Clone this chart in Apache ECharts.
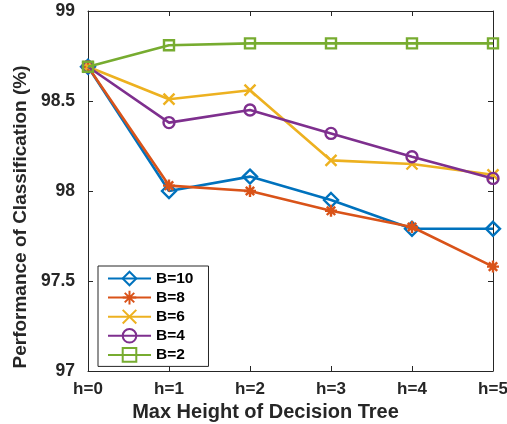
<!DOCTYPE html>
<html>
<head>
<meta charset="utf-8">
<script src="https://cdn.jsdelivr.net/npm/echarts@6/dist/echarts.min.js"></script>
<style>
  html, body { margin: 0; padding: 0; background: #fff; }
  #chart { width: 507px; height: 424px; }
</style>
</head>
<body>
<div id="chart"></div>
<script>
// Tree heights on the x axis
const heights = ['h=0', 'h=1', 'h=2', 'h=3', 'h=4', 'h=5'];

// Classification performance (%) per number of trees B
const b10 = [98.69, 98.00, 98.08, 97.95, 97.79, 97.79];
const b8  = [98.69, 98.03, 98.00, 97.89, 97.80, 97.58];
const b6  = [98.69, 98.51, 98.56, 98.17, 98.15, 98.09];
const b4  = [98.69, 98.38, 98.45, 98.32, 98.19, 98.07];
const b2  = [98.69, 98.81, 98.82, 98.82, 98.82, 98.82];

const seriesNames = ['B=10', 'B=8', 'B=6', 'B=4', 'B=2'];
const yTicks = [97, 97.5, 98, 98.5, 99];

const FONT = '"Liberation Sans", Arial, Helvetica, sans-serif';
const AXIS = '#262626';

// Hollow marker shapes: diamond, asterisk, cross, circle, square
const ASTERISK = 'path://M0,5L10,5M5,0L5,10M1.5,1.5L8.5,8.5M8.5,1.5L1.5,8.5';
const CROSS = 'path://M0,0L10,10M10,0L0,10';

const styles = [
  { color: '#0072BD', symbol: 'diamond', size: 14 },
  { color: '#D95319', symbol: ASTERISK, size: 12 },
  { color: '#EDB120', symbol: CROSS, size: 11 },
  { color: '#7E2F8E', symbol: 'circle', size: 11 },
  { color: '#77AC30', symbol: 'rect', size: 10 }
];
const values = [b10, b8, b6, b4, b2];

const series = values.map((data, i) => ({
  name: seriesNames[i],
  type: 'line',
  data: data,
  symbol: styles[i].symbol,
  symbolSize: styles[i].size,
  showAllSymbol: true,
  color: styles[i].color,
  lineStyle: { color: styles[i].color, width: 2.6 },
  itemStyle: { color: 'rgba(255,255,255,0)', borderColor: styles[i].color, borderWidth: 2.4 },
  emphasis: { disabled: true },
  animation: false,
  z: 2 + i
}));

const chart = echarts.init(document.getElementById('chart'));
chart.setOption({
  backgroundColor: '#fff',
  animation: false,
  grid: { left: 88, right: 14, top: 11, bottom: 53, containLabel: false, outerBoundsMode: 'none' },
  legend: {
    orient: 'vertical',
    left: 98,
    top: 266,
    padding: [4.5, 15, 3.5, 9],
    itemWidth: 43,
    itemHeight: 17,
    itemGap: 3.1,
    backgroundColor: '#fff',
    borderColor: AXIS,
    borderWidth: 1,
    borderRadius: 0,
    textStyle: { fontFamily: FONT, fontWeight: 'bold', fontSize: 15.5, color: '#000' },
    data: seriesNames
  },
  xAxis: [{
    type: 'category',
    data: heights,
    boundaryGap: false,
    name: 'Max Height of Decision Tree',
    nameLocation: 'middle',
    nameGap: 20,
    nameTextStyle: {
      fontFamily: FONT, fontWeight: 'bold', fontSize: 20, color: '#262626',
      padding: [0, 50, 0, 0]
    },
    axisLine: { lineStyle: { color: AXIS, width: 1 } },
    axisTick: { inside: true, length: 5, alignWithLabel: true, lineStyle: { color: AXIS } },
    axisLabel: { margin: 10, fontFamily: FONT, fontWeight: 'bold', fontSize: 17, color: '#262626' },
    splitLine: { show: false }
  }, {
    type: 'category',
    data: heights,
    boundaryGap: false,
    position: 'top',
    axisLine: { lineStyle: { color: AXIS, width: 1 } },
    axisTick: { inside: true, length: 5, lineStyle: { color: AXIS } },
    axisLabel: { show: false },
    splitLine: { show: false }
  }],
  yAxis: [{
    type: 'value',
    min: yTicks[0],
    max: yTicks[yTicks.length - 1],
    interval: 0.5,
    name: 'Performance of Classification (%)',
    nameLocation: 'middle',
    nameGap: 57,
    nameTextStyle: {
      fontFamily: FONT, fontWeight: 'bold', fontSize: 19, color: '#262626',
      padding: [0, 52, 0, 0]
    },
    axisLine: { show: true, lineStyle: { color: AXIS, width: 1 } },
    axisTick: { show: true, inside: true, length: 5, lineStyle: { color: AXIS } },
    axisLabel: {
      margin: 13, fontFamily: FONT, fontWeight: 'bold', fontSize: 17.5, color: '#262626',
      formatter: v => String(v)
    },
    splitLine: { show: false }
  }, {
    type: 'value',
    min: yTicks[0],
    max: yTicks[yTicks.length - 1],
    interval: 0.5,
    position: 'right',
    axisLine: { show: true, lineStyle: { color: AXIS, width: 1 } },
    axisTick: { show: true, inside: true, length: 5, lineStyle: { color: AXIS } },
    axisLabel: { show: false },
    splitLine: { show: false }
  }],
  series: series
});
</script>
</body>
</html>
